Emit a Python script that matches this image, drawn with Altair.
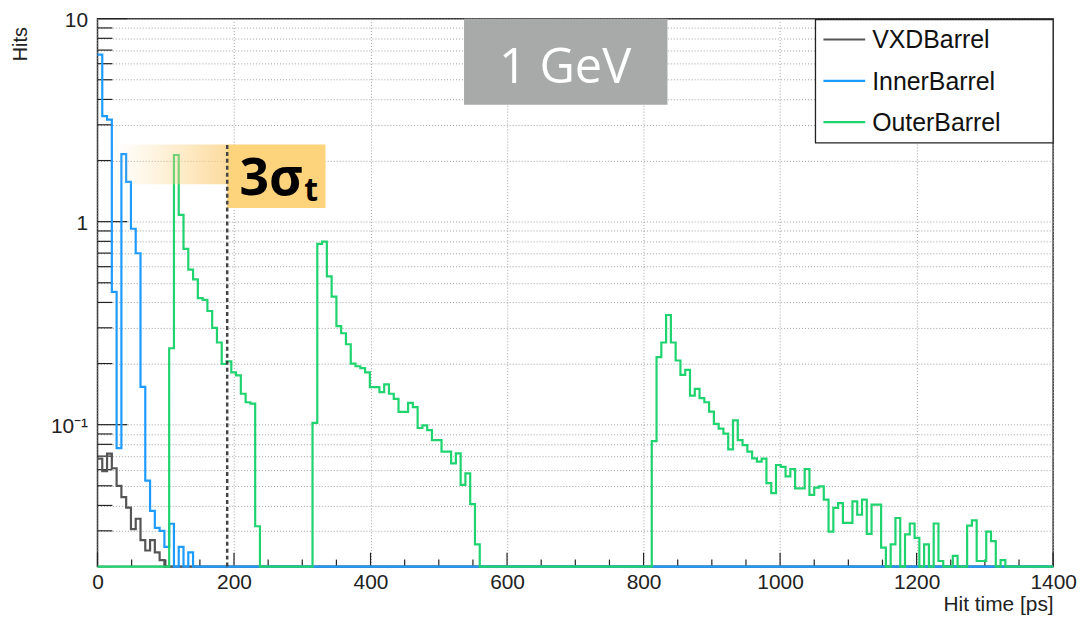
import altair as alt
import numpy as np
import pandas as pd

# ---------------- data (hits per 7 ps bin) ----------------
BIN_WIDTH = 7          # ps
N_BINS = 200           # 0 .. 1400 ps
T_MAX = 1400
Y_MIN, Y_MAX = 0.02, 10

series_names = ["VXDBarrel", "InnerBarrel", "OuterBarrel"]
series_colors = ["#555555", "#1e9bff", "#1fd36f"]

vxd_start = 0
vxd_hits = [0.068, 0.059, 0.072, 0.061, 0.050, 0.044, 0.039, 0.0306, 0.0344,
            0.027, 0.024, 0.027, 0.0235, 0.0215]

inner_start = 0
inner_hits = [6.65, 3.31, 3.18, 0.451, 0.0766, 2.15, 1.57, 0.923, 0.699, 0.1536,
              0.053, 0.0376, 0.031, 0.030, 0.025, 0.0325, 0, 0.025, 0, 0.0235]

outer_peak1_start = 15
outer_peak1 = [0.238, 2.13, 1.08, 0.735, 0.58, 0.52, 0.42, 0.412, 0.363, 0.30,
               0.254, 0.199, 0.205, 0.181, 0.175, 0.142, 0.129, 0.127, 0.0316]

outer_peak2_start = 45
outer_peak2 = [0.102, 0.778, 0.798, 0.538, 0.427, 0.306, 0.282, 0.249, 0.200, 0.194,
               0.19, 0.181, 0.153, 0.153, 0.1446, 0.158, 0.142, 0.134, 0.1155, 0.1155,
               0.128, 0.122, 0.0963, 0.0993, 0.094, 0.084, 0.084, 0.0736, 0.0736, 0.0645,
               0.0722, 0.0505, 0.0576, 0.0406, 0.0257]

outer_peak3_start = 116
outer_peak3 = [0.083, 0.215, 0.254, 0.347, 0.254, 0.207, 0.176, 0.186, 0.139, 0.150,
               0.135, 0.129, 0.116, 0.101, 0.0957, 0.0904, 0.0755, 0.105, 0.084, 0.0793,
               0.0736, 0.0683, 0.0657, 0.068, 0.0515, 0.046, 0.0633, 0.062, 0.0556, 0.0605,
               0.0486, 0.0486, 0.0605, 0.0451, 0.049, 0.0497, 0.0427, 0.0297, 0.0389, 0.0411,
               0.0328, 0.0328, 0.0419, 0.036, 0.0427, 0.029, 0.0404, 0.0404, 0.0248, 0,
               0.0257, 0.0347, 0, 0.0288, 0.0326, 0.0277, 0, 0.0257, 0, 0.0326,
               0.0213, 0, 0, 0.0226, 0, 0, 0.0318, 0.0338, 0.0213, 0.0213,
               0.0297, 0.0267, 0, 0.0215]

x_ticks_major = [0, 200, 400, 600, 800, 1000, 1200, 1400]
x_ticks_minor = [50, 100, 150, 250, 300, 350, 450, 500, 550, 650, 700, 750,
                 850, 900, 950, 1050, 1100, 1150, 1250, 1300, 1350]
y_ticks_major = [0.1, 1, 10]
y_ticks_minor = [0.02, 0.03, 0.04, 0.05, 0.06, 0.07, 0.08, 0.09,
                 0.2, 0.3, 0.4, 0.5, 0.6, 0.7, 0.8, 0.9,
                 2, 3, 4, 5, 6, 7, 8, 9]

sigma_cut = 190          # ps, 3 sigma_t marker
energy_label = "1 GeV"

# ---------------- layout ----------------
W, H = 961, 551
FONT = "Liberation Sans"


def fill(segments):
    h = np.zeros(N_BINS)
    for start, vals in segments:
        h[start:start + len(vals)] = vals
    return h


hists = {
    "VXDBarrel": fill([(vxd_start, vxd_hits)]),
    "InnerBarrel": fill([(inner_start, inner_hits)]),
    "OuterBarrel": fill([(outer_peak1_start, outer_peak1),
                         (outer_peak2_start, outer_peak2),
                         (outer_peak3_start, outer_peak3)]),
}

xs = alt.Scale(domain=[0, T_MAX], nice=False, zero=False)
ys = alt.Scale(type="log", domain=[Y_MIN, Y_MAX], nice=False)

y_all = sorted(y_ticks_minor + y_ticks_major)

x_axis = alt.Axis(values=x_ticks_major, ticks=False, domain=False, grid=True,
                  gridDash=[1, 2], gridColor="#a0a0a0", gridWidth=1,
                  labelFont=FONT, labelFontSize=21, labelColor="#222", labelPadding=5,
                  labelOverlap=False, labelFlush=False, format="d",
                  title="Hit time [ps]", titleFont=FONT, titleFontSize=21,
                  titleFontWeight="normal", titleColor="#222",
                  titleAnchor="end", titleAlign="right", titleX=W, titleY=44,
                  titleBaseline="alphabetic")

y_axis = alt.Axis(values=y_all, ticks=False, domain=False, grid=True,
                  gridDash=[1, 2], gridColor="#a0a0a0", gridWidth=1,
                  labelFont=FONT, labelFontSize=21, labelColor="#222", labelPadding=10,
                  labelOverlap=False, labelFlush=False, labelOffset=2,
                  labelExpr="datum.value == 10 ? '10' : datum.value == 1 ? '1' : "
                            "datum.value == 0.1 ? '10\u207b\u00b9' : ''",
                  title="Hits", titleFont=FONT, titleFontSize=20,
                  titleFontWeight="normal", titleColor="#222",
                  titleAngle=-90, titleAnchor="end", titleAlign="right",
                  titleX=-71, titleY=8, titleBaseline="alphabetic")


def X(field):
    return alt.X(field, scale=xs, axis=x_axis)


def Y(field):
    return alt.Y(field, scale=ys, axis=y_axis)


layers = []

# gray energy box (behind the histograms)
box_df = pd.DataFrame({"x1": [537], "x2": [835], "y1": [3.77], "y2": [Y_MAX]})
layers.append(alt.Chart(box_df).mark_rect(color="#a7aaa9").encode(
    x=X("x1:Q"), x2="x2:Q", y=Y("y1:Q"), y2="y2:Q"))

# inner tick marks (ROOT style)
layers.append(alt.Chart(pd.DataFrame({"x1": x_ticks_major})).mark_rule(color="#222", strokeWidth=1.2).encode(
    x=X("x1:Q"), y=alt.value(H), y2=alt.value(H - 14)))
layers.append(alt.Chart(pd.DataFrame({"x1": x_ticks_minor})).mark_rule(color="#222", strokeWidth=1.2).encode(
    x=X("x1:Q"), y=alt.value(H), y2=alt.value(H - 7)))
layers.append(alt.Chart(pd.DataFrame({"y1": y_ticks_major})).mark_rule(color="#222", strokeWidth=1.2).encode(
    y=Y("y1:Q"), x=alt.value(0), x2=alt.value(30)))
layers.append(alt.Chart(pd.DataFrame({"y1": y_ticks_minor})).mark_rule(color="#222", strokeWidth=1.2).encode(
    y=Y("y1:Q"), x=alt.value(0), x2=alt.value(15)))

# histograms as step lines
edges = np.arange(N_BINS + 1) * BIN_WIDTH
for name, color in zip(series_names, series_colors):
    h = hists[name]
    vals = np.append(h, h[-1])
    df = pd.DataFrame({"x1": edges, "y1": np.maximum(vals, Y_MIN), "series": name})
    layers.append(alt.Chart(df).mark_line(interpolate="step-after", color=color, strokeWidth=2.2).encode(
        x=X("x1:Q"), y=Y("y1:Q")))

# 3 sigma_t annotation
grad = alt.Gradient(gradient="linear", x1=0, x2=1, y1=0, y2=0,
                    stops=[alt.GradientStop(color="rgba(253,214,140,0)", offset=0),
                           alt.GradientStop(color="rgba(251,206,122,0.72)", offset=1)])
grad_df = pd.DataFrame({"x1": [25], "x2": [sigma_cut], "y1": [1.53], "y2": [2.40]})
layers.append(alt.Chart(grad_df).mark_rect(fill=grad).encode(
    x=X("x1:Q"), x2="x2:Q", y=Y("y1:Q"), y2="y2:Q"))

sig_df = pd.DataFrame({"x1": [sigma_cut], "x2": [334], "y1": [1.167], "y2": [2.40]})
layers.append(alt.Chart(sig_df).mark_rect(color="#fdd37c").encode(
    x=X("x1:Q"), x2="x2:Q", y=Y("y1:Q"), y2="y2:Q"))

cut_df = pd.DataFrame({"x1": [sigma_cut], "y1": [Y_MIN], "y2": [2.40]})
layers.append(alt.Chart(cut_df).mark_rule(color="#444", strokeWidth=2.5, strokeDash=[4, 3]).encode(
    x=X("x1:Q"), y=Y("y1:Q"), y2="y2:Q"))

txt_df = pd.DataFrame({"x1": [208], "y1": [1.35]})
layers.append(alt.Chart(txt_df).mark_text(text="3\u03c3", font="Open Sans", fontSize=52, fontWeight="bold",
                                          color="#000", align="left", baseline="alphabetic").encode(
    x=X("x1:Q"), y=Y("y1:Q")))
sub_df = pd.DataFrame({"x1": [303], "y1": [1.263]})
layers.append(alt.Chart(sub_df).mark_text(text="t", font="Open Sans", fontSize=32, fontWeight="bold",
                                          color="#000", align="left", baseline="alphabetic").encode(
    x=X("x1:Q"), y=Y("y1:Q")))

# energy label
en_df = pd.DataFrame({"x1": [685], "y1": [4.83]})
layers.append(alt.Chart(en_df).mark_text(text=energy_label, font="Open Sans", fontSize=49,
                                         color="white", align="center", baseline="alphabetic").encode(
    x=X("x1:Q"), y=Y("y1:Q")))

# legend (ROOT TLegend style)
one = pd.DataFrame({"a": [0]})
LEG_X0, LEG_X1, LEG_Y0, LEG_Y1 = 722, W, 1, 125
LEG_ROW0, LEG_STEP = 21, 41.5
layers.append(alt.Chart(one).mark_rect(fill="white", stroke="#222", strokeWidth=1.3).encode(
    x=alt.value(LEG_X0), x2=alt.value(LEG_X1), y=alt.value(LEG_Y0), y2=alt.value(LEG_Y1)))
for i, (name, color) in enumerate(zip(series_names, series_colors)):
    ry = LEG_ROW0 + LEG_STEP * i
    layers.append(alt.Chart(one).mark_rule(color=color, strokeWidth=2.2).encode(
        x=alt.value(LEG_X0 + 8), x2=alt.value(LEG_X0 + 50), y=alt.value(ry)))
    layers.append(alt.Chart(one).mark_text(text=name, font=FONT, fontSize=25, color="#111",
                                           align="left", baseline="middle").encode(
        x=alt.value(LEG_X0 + 57), y=alt.value(ry + 1)))

chart = alt.layer(*layers).properties(
    width=W, height=H,
    padding={"left": 90, "top": 9, "right": 24, "bottom": 48},
    autosize=alt.AutoSizeParams(type="none"),
).configure_view(stroke="#333", strokeWidth=1.5)

chart.save("out.html", embed_options={"renderer": "svg", "actions": False})
